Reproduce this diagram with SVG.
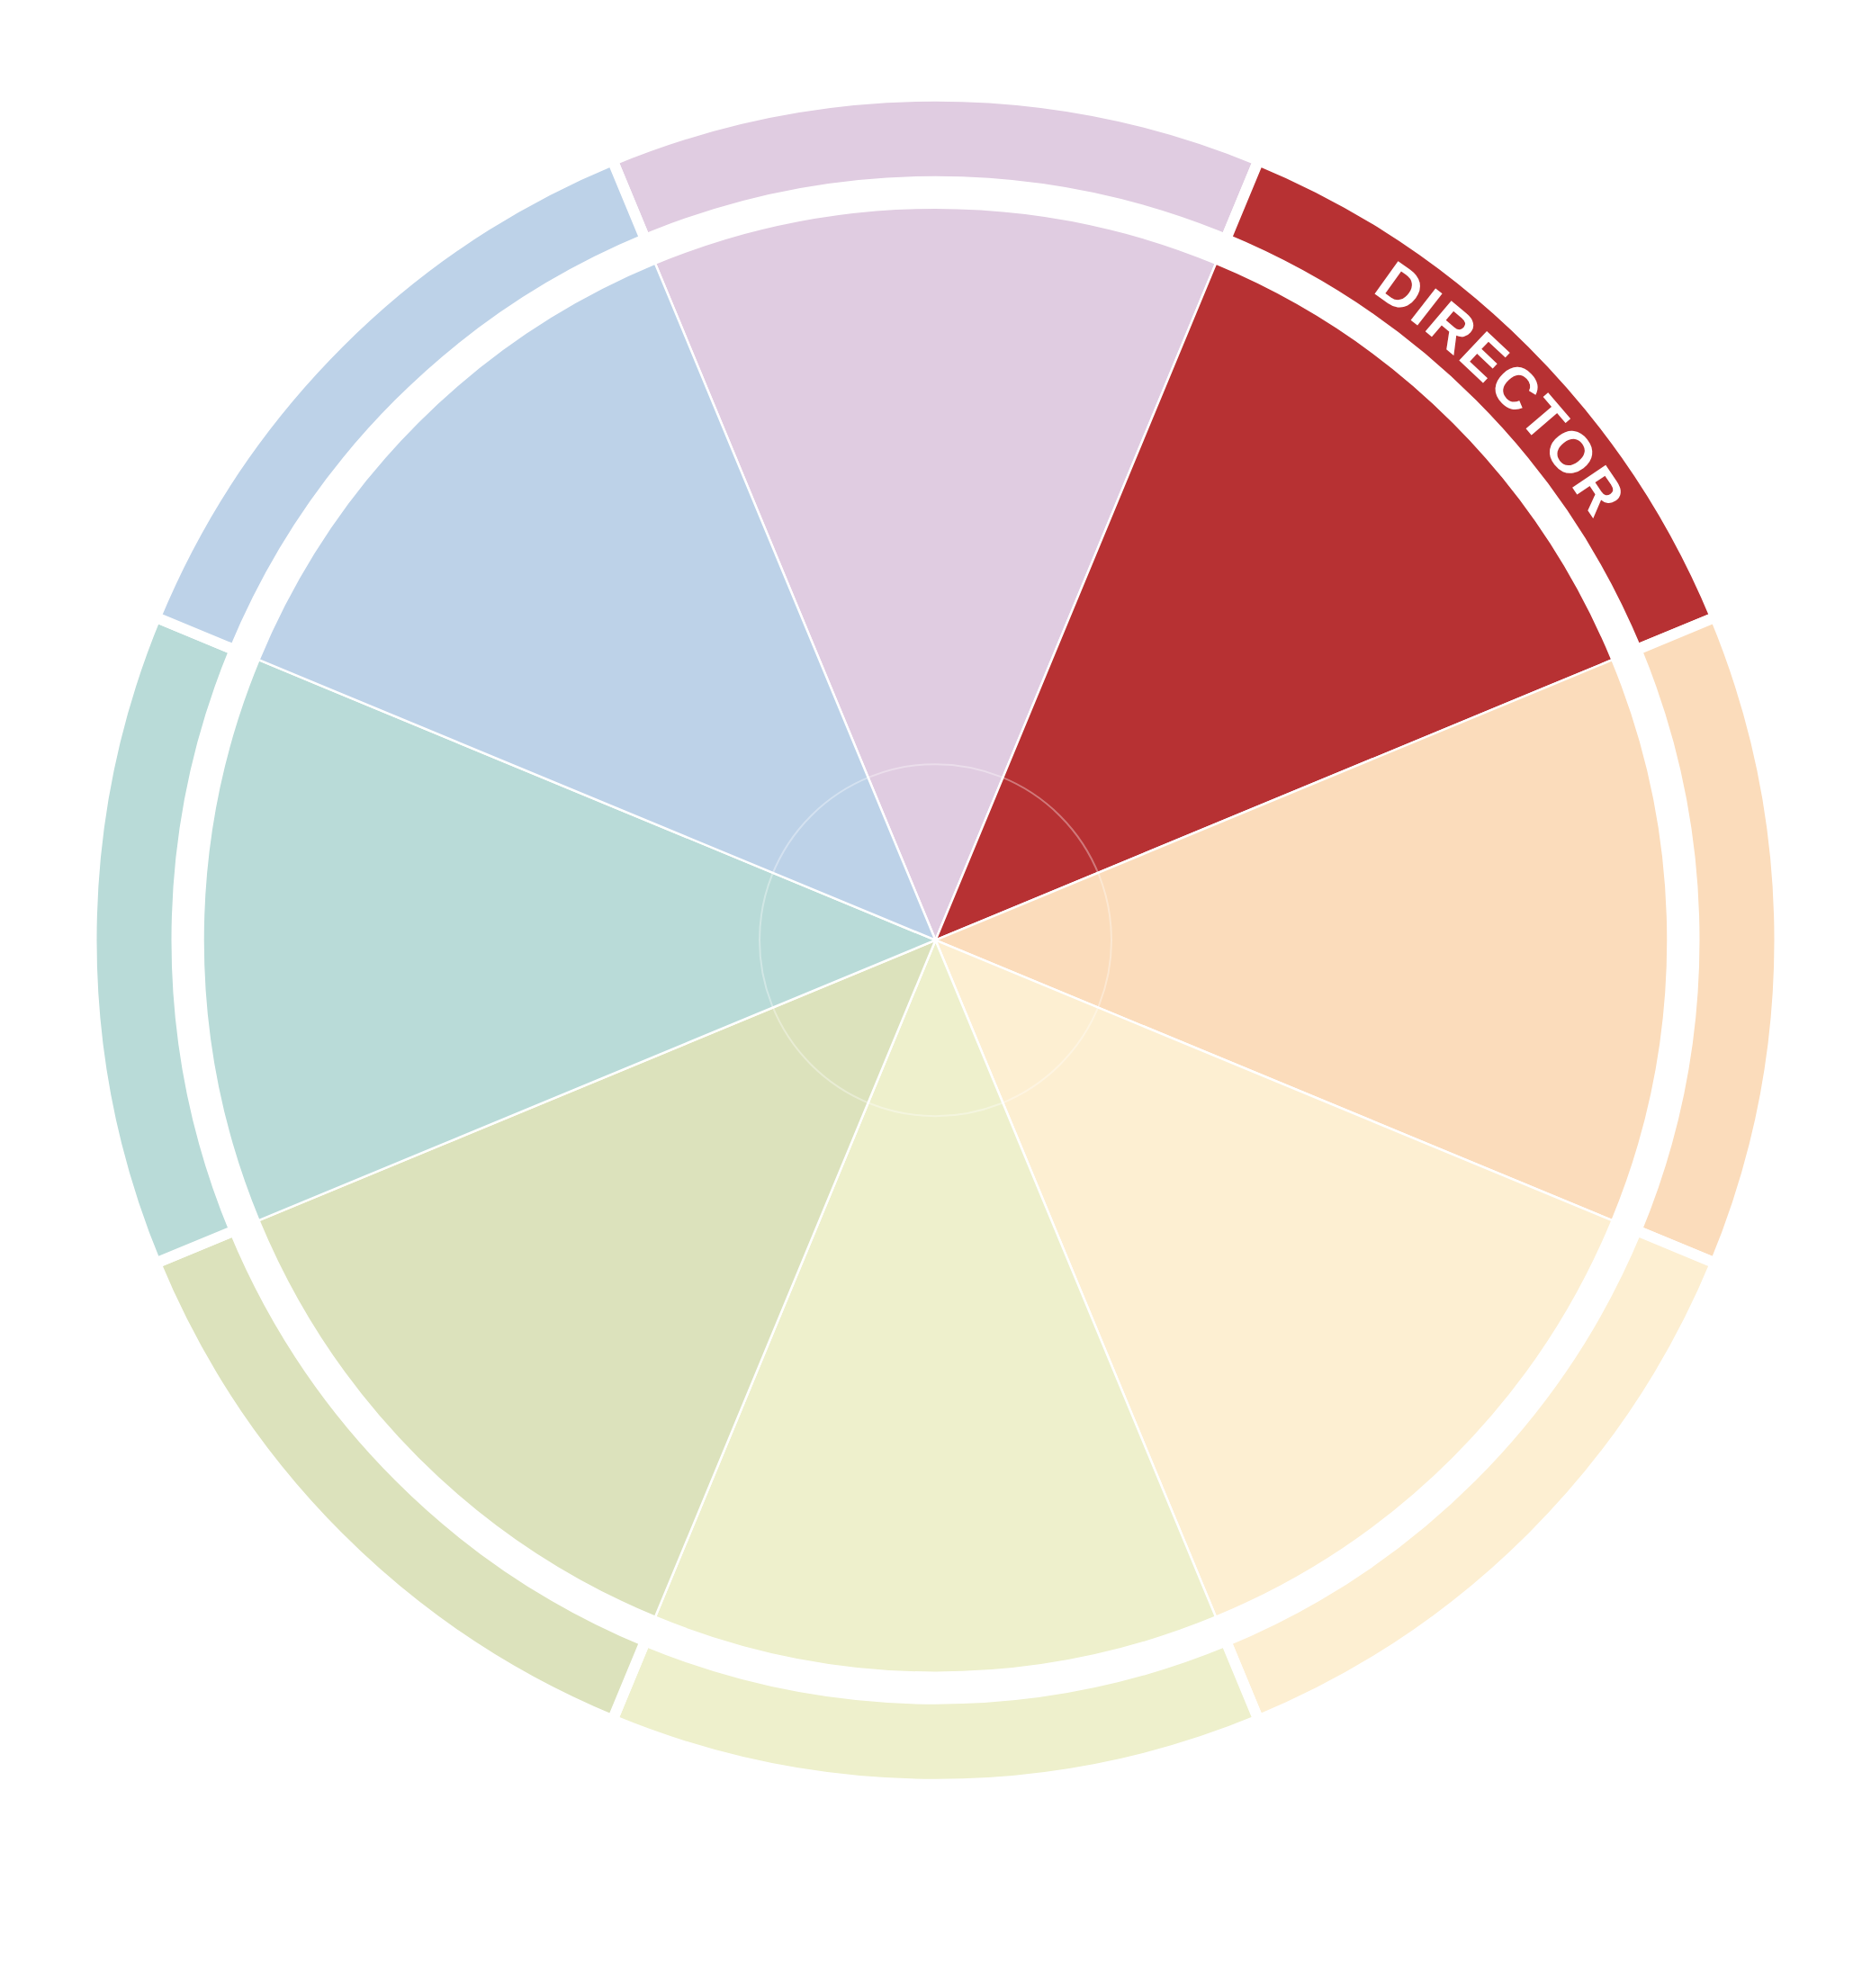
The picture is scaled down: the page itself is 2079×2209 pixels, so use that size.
<svg xmlns="http://www.w3.org/2000/svg" width="2079" height="2209" viewBox="0 0 2079 2209">
<style>
.pie{stroke:#fff;stroke-width:2.5;stroke-linejoin:round}
.ring{stroke:#fff;stroke-width:12;stroke-linejoin:miter}
.pink{fill:#e0cce1}.red{fill:#b73133}.peach{fill:#fbdcbb}.lyellow{fill:#fdefd2}
.ygreen{fill:#eef0cc}.olive{fill:#dce2bc}.teal{fill:#b9dbd8}.blue{fill:#bdd2e8}
.label{font-family:"Liberation Sans",Arial,sans-serif;font-weight:bold;font-size:65px;letter-spacing:2.5px;fill:#fff}
</style>
<defs>
<path id="labelArc" d="M 1039.5 176.7 A 868 868 0 0 1 1907.5 1044.7" fill="none"/>
</defs>
<rect width="2079" height="2209" fill="#fff"/>
<g id="sector-top">
<path class="pie pink" d="M 1039.5 1044.7 L 728.00 292.66 A 814 814 0 0 1 1351.00 292.66 Z"/>
<path class="ring pink" d="M 680.54 178.10 A 938 938 0 0 1 1398.46 178.10 L 1362.10 265.87 A 843 843 0 0 0 716.90 265.87 Z"/>
</g>
<g id="sector-director">
<path class="pie red" d="M 1039.5 1044.7 L 1351.00 292.66 A 814 814 0 0 1 1791.54 733.20 Z"/>
<path class="ring red" d="M 1398.46 178.10 A 938 938 0 0 1 1906.10 685.74 L 1818.33 722.10 A 843 843 0 0 0 1362.10 265.87 Z"/>
</g>
<g id="sector-right">
<path class="pie peach" d="M 1039.5 1044.7 L 1791.54 733.20 A 814 814 0 0 1 1791.54 1356.20 Z"/>
<path class="ring peach" d="M 1906.10 685.74 A 938 938 0 0 1 1906.10 1403.66 L 1818.33 1367.30 A 843 843 0 0 0 1818.33 722.10 Z"/>
</g>
<g id="sector-lower-right">
<path class="pie lyellow" d="M 1039.5 1044.7 L 1791.54 1356.20 A 814 814 0 0 1 1351.00 1796.74 Z"/>
<path class="ring lyellow" d="M 1906.10 1403.66 A 938 938 0 0 1 1398.46 1911.30 L 1362.10 1823.53 A 843 843 0 0 0 1818.33 1367.30 Z"/>
</g>
<g id="sector-bottom">
<path class="pie ygreen" d="M 1039.5 1044.7 L 1351.00 1796.74 A 814 814 0 0 1 728.00 1796.74 Z"/>
<path class="ring ygreen" d="M 1398.46 1911.30 A 938 938 0 0 1 680.54 1911.30 L 716.90 1823.53 A 843 843 0 0 0 1362.10 1823.53 Z"/>
</g>
<g id="sector-lower-left">
<path class="pie olive" d="M 1039.5 1044.7 L 728.00 1796.74 A 814 814 0 0 1 287.46 1356.20 Z"/>
<path class="ring olive" d="M 680.54 1911.30 A 938 938 0 0 1 172.90 1403.66 L 260.67 1367.30 A 843 843 0 0 0 716.90 1823.53 Z"/>
</g>
<g id="sector-left">
<path class="pie teal" d="M 1039.5 1044.7 L 287.46 1356.20 A 814 814 0 0 1 287.46 733.20 Z"/>
<path class="ring teal" d="M 172.90 1403.66 A 938 938 0 0 1 172.90 685.74 L 260.67 722.10 A 843 843 0 0 0 260.67 1367.30 Z"/>
</g>
<g id="sector-upper-left">
<path class="pie blue" d="M 1039.5 1044.7 L 287.46 733.20 A 814 814 0 0 1 728.00 292.66 Z"/>
<path class="ring blue" d="M 172.90 685.74 A 938 938 0 0 1 680.54 178.10 L 716.90 265.87 A 843 843 0 0 0 260.67 722.10 Z"/>
</g>
<g id="center-circle">
<circle cx="1039.5" cy="1044.7" r="195.5" fill="none" stroke="#fff" stroke-opacity="0.35" stroke-width="2"/>
</g>
<g id="label-director">
<text class="label"><textPath href="#labelArc" startOffset="693" text-anchor="middle">DIRECTOR</textPath></text>
</g>
</svg>
